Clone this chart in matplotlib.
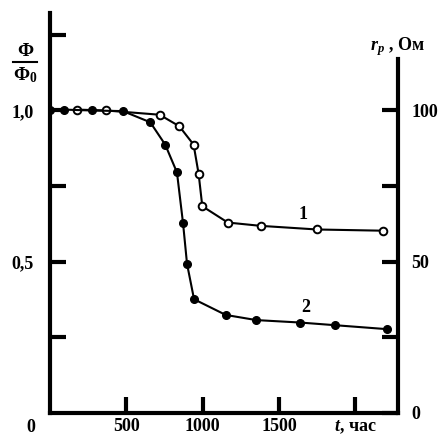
import matplotlib
matplotlib.use("Agg")
import matplotlib.pyplot as plt
from matplotlib.lines import Line2D

plt.rcParams['font.family'] = ['Liberation Serif', 'DejaVu Serif']
plt.rcParams['font.weight'] = 'bold'
plt.rcParams['mathtext.fontset'] = 'custom'
plt.rcParams['mathtext.rm'] = 'Liberation Serif:bold'
plt.rcParams['mathtext.it'] = 'Liberation Serif:italic:bold'
plt.rcParams['mathtext.bf'] = 'Liberation Serif:bold'

# Curve 1 (open circles)
t1 = [177, 369, 718, 847, 941, 974, 998, 1165, 1381, 1750, 2180]
v1 = [1.003, 1.0, 0.986, 0.948, 0.887, 0.790, 0.683, 0.629, 0.618, 0.606, 0.602]
# Curve 2 (filled circles)
t2 = [0, 89, 275, 478, 657, 755, 832, 872, 898, 944, 1152, 1352, 1636, 1870, 2208]
v2 = [1.0, 1.003, 1.0, 0.998, 0.961, 0.887, 0.795, 0.626, 0.492, 0.375, 0.323, 0.306, 0.298, 0.289, 0.276]

x_ticks = [500, 1000, 1500, 2000]
x_labels = ['500', '1000', '1500', '$t$, час']
left_ticks = [0.25, 0.5, 0.75, 1.0, 1.25]
left_labels = ['', '0,5', '', '1,0', '']
right_ticks = [0.0, 0.25, 0.5, 0.75, 1.0]
right_labels = ['0', '', '50', '', '100']

W, H = 439, 436
fig = plt.figure(figsize=(W / 100, H / 100), dpi=100)
L, R, B, T = 50, 397.7, 412.5, 13
ax = fig.add_axes([L / W, (H - B) / H, (R - L) / W, (B - T) / H])
ymax = (B - T) / 302
ax.set_xlim(0, (R - L) * 500 / 76.3)
ax.set_ylim(0, ymax)

ax.plot(t1, v1, color='black', lw=1.5, marker='o', ms=5.5, mfc='white', mec='black', mew=1.4, zorder=3)
ax.plot(t2, v2, color='black', lw=1.5, marker='o', ms=5.5, mfc='black', mec='black', zorder=3)

ax.spines['top'].set_visible(False)
ax.spines['right'].set_visible(False)
for s in ['left', 'bottom']:
    ax.spines[s].set_linewidth(3)

ax.set_xticks(x_ticks, x_labels)
ax.set_yticks(left_ticks, left_labels)
ax.tick_params(axis='both', direction='in', length=11.5, width=3, labelsize=13)
ax.tick_params(axis='y', pad=12)
ax.tick_params(axis='x', pad=4)

ax2 = ax.twinx()
ax2.set_ylim(0, ymax)
for s in ['top', 'left', 'bottom']:
    ax2.spines[s].set_visible(False)
ax2.spines['right'].set_linewidth(3)
ax2.spines['right'].set_bounds(0, (B - 59) / 302)
ax2.set_yticks(right_ticks, right_labels)
ax2.tick_params(axis='y', direction='in', length=11.5, width=3, labelsize=13, pad=10)

# Extra texts
fig.text(31 / W, 1 - 427 / H, '0', ha='center', va='center', fontsize=13, fontweight='bold')
ax.text(1660, 0.654, '1', ha='center', va='center', fontsize=13, fontweight='bold')
ax.text(1673, 0.349, '2', ha='center', va='center', fontsize=13, fontweight='bold')

# Y label fraction
fig.text(25 / W, 1 - 52 / H, 'Φ', ha='center', va='center', fontsize=14, fontweight='bold')
fig.add_artist(Line2D([13 / W, 37 / W], [1 - 62 / H, 1 - 62 / H], color='black', lw=1.5, transform=fig.transFigure))
fig.text(25 / W, 1 - 75 / H, r'$\Phi_0$', ha='center', va='center', fontsize=14)

fig.text(397 / W, 1 - 47 / H, r'$r_p$ , Ом', ha='center', va='center', fontsize=13)

fig.savefig('out.png', dpi=100)
